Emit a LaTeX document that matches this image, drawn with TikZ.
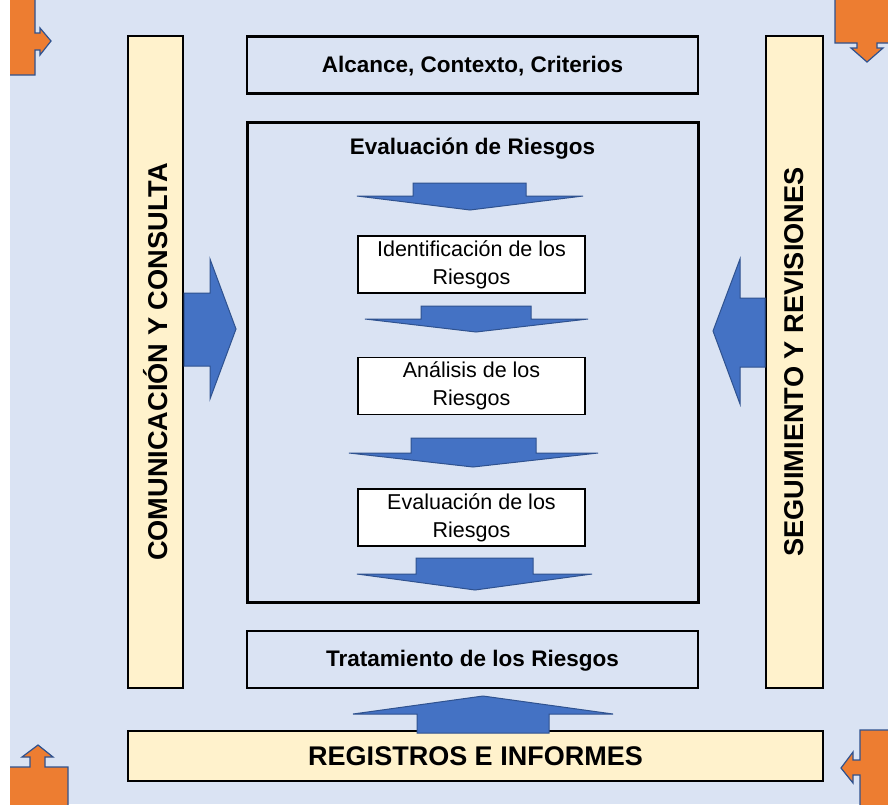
\documentclass[tikz,border=0pt]{standalone}
\usepackage{fontspec}
\setmainfont{Liberation Sans}
\usepackage{tikz}
\definecolor{fondo}{HTML}{DAE3F3}
\definecolor{crema}{HTML}{FFF2CC}
\definecolor{naranja}{HTML}{ED7D31}
\definecolor{azul}{HTML}{4472C4}
\definecolor{azuloscuro}{HTML}{2F528F}

\begin{document}
\begin{tikzpicture}[x=1pt, y=-1pt]
\tikzstyle{panel}=[draw=black, line width=2.5pt, fill=fondo, minimum width=451pt, minimum height=57pt, inner sep=0pt, text height=18pt, font=\bfseries\fontsize{22.5}{26}\selectfont]
\tikzstyle{paso}=[draw=black, line width=1.5pt, fill=white, minimum width=227pt, minimum height=57pt, inner sep=0pt, align=center, font=\fontsize{21.5}{28}\selectfont]
\tikzstyle{banda}=[draw=black, line width=2.5pt, fill=crema, inner sep=0pt, font=\bfseries\fontsize{27.2}{30}\selectfont]
\tikzstyle{flecha}=[fill=azul, draw=azuloscuro, line width=1pt, line join=miter]
\tikzstyle{esquina}=[fill=naranja, draw=azuloscuro, line width=1.2pt]
\useasboundingbox (0,0) rectangle (888,804);
\fill[fondo] (10,0) rectangle (888,804);

% flechas de las esquinas
\begin{scope}
\clip (10,0) rectangle (888,804);
\draw[esquina] (4,-4) -- (35,-4) -- (35,33) -- (40,33) -- (40,28) -- (51,41) -- (40,55) -- (40,50) -- (35,50) -- (35,75) -- (4,75) -- cycle;
\draw[esquina] (835,-4) -- (894,-4) -- (894,43) -- (877,43) -- (877,48) -- (883,48) -- (867,62) -- (851,48) -- (857,48) -- (857,43) -- (835,43) -- cycle;
\draw[esquina] (4,767) -- (30,767) -- (30,757) -- (22,757) -- (38,745) -- (53,757) -- (45,757) -- (45,767) -- (68,767) -- (68,810) -- (4,810) -- cycle;
\draw[esquina] (894,730) -- (860,730) -- (860,760) -- (853,760) -- (853,752) -- (841,768) -- (853,783) -- (853,775) -- (860,775) -- (860,810) -- (894,810) -- cycle;
\end{scope}

% bandas laterales e inferior
\node[banda, rotate=90, minimum width=652pt, minimum height=55pt] (comunicacion) at (155.5,362) {COMUNICACIÓN Y CONSULTA};
\node[banda, rotate=90, minimum width=652pt, minimum height=57pt] (seguimiento) at (794.5,362) {SEGUIMIENTO Y REVISIONES};
\node[banda, minimum width=695pt, minimum height=50pt, font=\bfseries\fontsize{27}{30}\selectfont] (registros) at (475.5,756) {REGISTROS E INFORMES};

% cajas centrales
\node[panel] (alcance) at (472.5,65) {Alcance, Contexto, Criterios};
\node[panel, line width=3pt, minimum height=480pt] (evaluacion) at (472.5,362) {};
\node[font=\bfseries\fontsize{22.5}{26}\selectfont] (titulo) at (472.5,149) {Evaluación de Riesgos};
\node[panel] (tratamiento) at (472.5,659.5) {Tratamiento de los Riesgos};

\node[paso] (identificacion) at (471.5,264.5) {Identificación de los\\Riesgos};
\node[paso] (analisis) at (471.5,386) {Análisis de los\\Riesgos};
\node[paso] (evalriesgos) at (471.5,517.5) {Evaluación de los\\Riesgos};

% flechas de bloque
\draw[flecha] (413,183) -- (526,183) -- (526,196) -- (583,196) -- (470,210) -- (357,196) -- (413,196) -- cycle;
\draw[flecha] (421,306) -- (531,306) -- (531,319) -- (588,319) -- (476,332) -- (365,319) -- (421,319) -- cycle;
\draw[flecha] (411,438) -- (536,438) -- (536,453) -- (598,453) -- (473,467) -- (349,453) -- (411,453) -- cycle;
\draw[flecha] (416,558) -- (533,558) -- (533,574) -- (592,574) -- (475,590) -- (357,574) -- (416,574) -- cycle;
\draw[flecha] (417,733) -- (549,733) -- (549,714) -- (613,714) -- (483,696) -- (353,714) -- (417,714) -- cycle;
\draw[flecha] (184,293) -- (210,293) -- (210,259) -- (236,329) -- (210,399) -- (210,366) -- (184,366) -- cycle;
\draw[flecha] (765,298) -- (740,298) -- (740,259) -- (713,331) -- (740,404) -- (740,367) -- (765,367) -- cycle;

\end{tikzpicture}
\end{document}
